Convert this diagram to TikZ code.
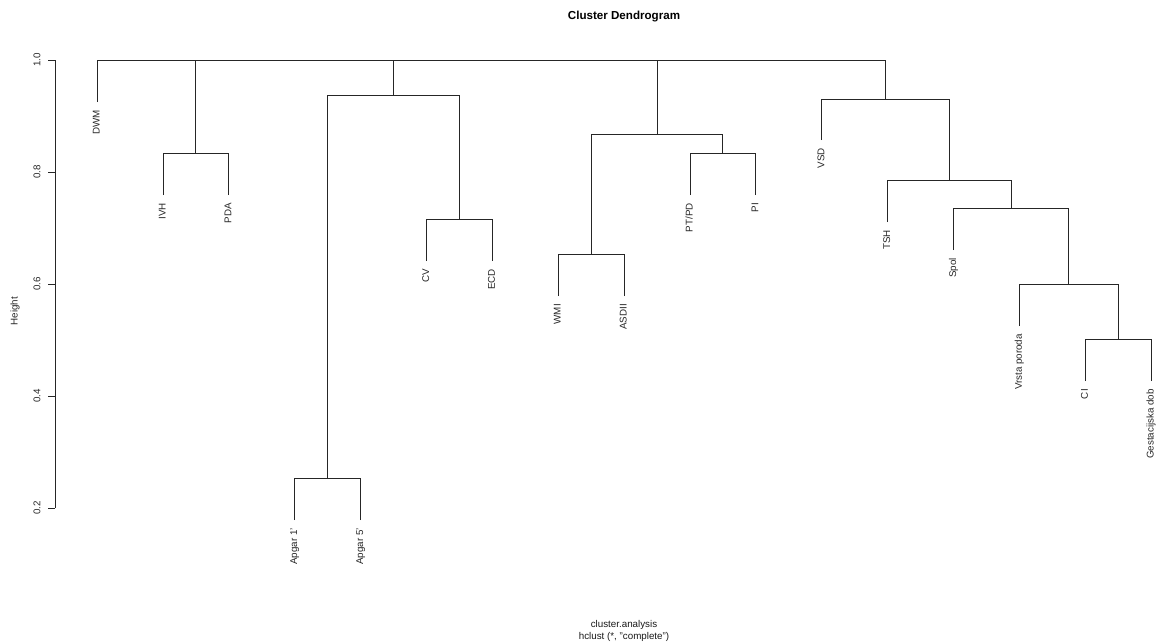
\documentclass[tikz,border=0pt]{standalone}
\usepackage{fontspec}
\setmainfont{Liberation Sans}
\begin{document}
\begin{tikzpicture}[x=1pt,y=-1pt,
  seg/.style={draw=black!85,line width=0.8pt},
  axisline/.style={draw=black!85,line width=0.8pt},
  leaflabel/.style={rotate=90,anchor=mid east,inner sep=0pt,font=\fontsize{9.8}{11}\selectfont,text=black!85},
  ticklabel/.style={rotate=90,anchor=center,inner sep=0pt,font=\fontsize{9.8}{11}\selectfont,text=black!85},
  plaintext/.style={inner sep=0pt,font=\fontsize{9.8}{11}\selectfont,text=black!90}]
\useasboundingbox (0,0) rectangle (1157,643);
% title and annotations
\node[inner sep=0pt,font=\bfseries\fontsize{11.6}{13}\selectfont] (title) at (624,17) {Cluster Dendrogram};
\node[plaintext] (xlab) at (624,625) {cluster.analysis};
\node[plaintext] (sub) at (624,636.5) {hclust (*, "complete")};
\node[ticklabel] (ylab) at (15,311) {Height};
% axis
\coordinate (ax0) at (55,60);
\coordinate (ax1) at (55,508);
\draw[axisline] (ax0) -- (ax1);
\foreach \yy/\lab [count=\i] in {60/1.0,172/0.8,284/0.6,396/0.4,508/0.2}{
  \coordinate (tk\i) at (55,\yy);
  \coordinate (tl\i) at (48,\yy);
  \draw[axisline] (tk\i) -- (tl\i);
  \node[ticklabel] (tlab\i) at (37,\yy) {\lab};
}
% leaves (end points)
\coordinate (DWM) at (97,102);
\coordinate (IVH) at (162.9,195);
\coordinate (PDA) at (228.75,195);
\coordinate (A1) at (294.6,520);
\coordinate (A5) at (360.5,520);
\coordinate (CV) at (426.4,261);
\coordinate (ECD) at (492.25,261);
\coordinate (WMI) at (558.1,296);
\coordinate (ASD) at (624,296);
\coordinate (PTPD) at (689.9,195);
\coordinate (PI) at (755.75,195);
\coordinate (VSD) at (821.6,140);
\coordinate (TSH) at (887.5,222);
\coordinate (Spol) at (953.4,250);
\coordinate (Vrsta) at (1019.25,326);
\coordinate (CI) at (1085.1,381);
\coordinate (Gest) at (1151,381);
% merges
\coordinate (nIP) at (195.8,153);
\coordinate (nA) at (327.55,478);
\coordinate (nC) at (459.3,219);
\coordinate (nBig) at (393.4,95);
\coordinate (nWA) at (591.05,254);
\coordinate (nPP) at (722.8,153);
\coordinate (nW) at (656.9,134);
\coordinate (nCG) at (1118.05,339);
\coordinate (nVr) at (1068.65,284);
\coordinate (nSp) at (1011,208);
\coordinate (nT) at (949.25,180);
\coordinate (nV) at (885.4,99);
\coordinate (root) at (491.2,60);
% connectors
\foreach \c/\p in {IVH/nIP,PDA/nIP,A1/nA,A5/nA,CV/nC,ECD/nC,nA/nBig,nC/nBig,
  WMI/nWA,ASD/nWA,PTPD/nPP,PI/nPP,nWA/nW,nPP/nW,
  CI/nCG,Gest/nCG,Vrsta/nVr,nCG/nVr,Spol/nSp,nVr/nSp,TSH/nT,nSp/nT,VSD/nV,nT/nV,
  DWM/root,nIP/root,nBig/root,nW/root,nV/root}{
  \draw[seg] (\c) |- (\p);
}
% labels
\foreach \c/\t in {DWM/DWM,IVH/IVH,PDA/PDA,A1/{Apgar 1'},A5/{Apgar 5'},CV/CV,ECD/ECD,
  WMI/WMI,ASD/ASDII,PTPD/{PT/PD},PI/PI,VSD/VSD,TSH/TSH,Spol/Spol,Vrsta/{Vrsta poroda},
  CI/CI,Gest/{Gestacijska dob}}{
  \node[leaflabel] (lab\c) at ([yshift=-8pt]\c) {\t};
}
\end{tikzpicture}
\end{document}
